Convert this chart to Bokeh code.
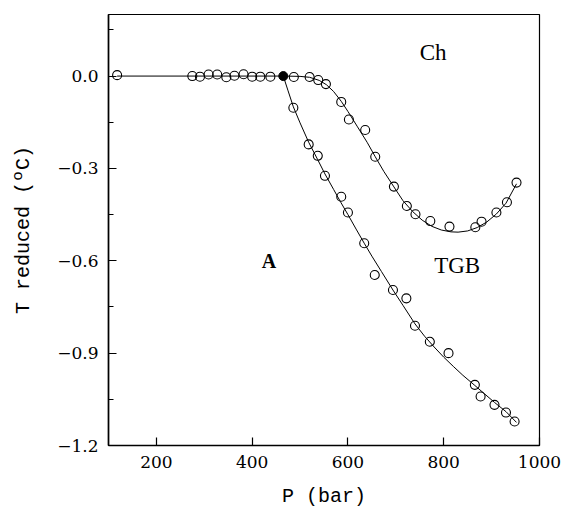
from bokeh.plotting import figure
from bokeh.models import FixedTicker, Range1d
from bokeh.core.properties import value
from bokeh.embed import file_html
from bokeh.resources import INLINE

# ---- data ----
# A-Ch boundary (open circles, flat part)
p_flat = [118, 275, 291, 309, 327, 346, 363, 382, 400, 417, 438]
t_flat = [0.003, 0.0, -0.002, 0.005, 0.005, -0.004, 0.001, 0.006, -0.002, -0.002, -0.002]

# triple point (filled)
p_triple = [465]
t_triple = [0.0]

# Ch-TGB boundary points
p_upper = [487, 520, 538, 554, 586, 602, 636, 657, 696, 723, 741, 772, 812, 866, 879, 910, 932, 952]
t_upper = [-0.003, -0.003, -0.013, -0.026, -0.084, -0.141, -0.175, -0.262, -0.359, -0.422,
           -0.449, -0.471, -0.489, -0.491, -0.473, -0.443, -0.410, -0.346]

# A-TGB boundary points
p_lower = [486, 518, 537, 552, 586, 600, 634, 656, 694, 722, 740, 771, 810, 865, 877, 906, 930, 948]
t_lower = [-0.103, -0.222, -0.259, -0.324, -0.392, -0.443, -0.543, -0.646, -0.695, -0.722,
           -0.811, -0.863, -0.900, -1.003, -1.041, -1.068, -1.093, -1.122]

# fitted lines
p_fit_flat = [118, 465]
t_fit_flat = [0.0, 0.0]

p_fit_upper = [465, 500, 520, 540, 555, 570, 586, 600, 620, 640, 657, 675, 696, 715, 735, 755,
               775, 795, 815, 830, 850, 870, 890, 910, 930, 952]
t_fit_upper = [0.0, -0.001, -0.004, -0.014, -0.028, -0.050, -0.082, -0.115, -0.165, -0.215,
               -0.262, -0.310, -0.360, -0.405, -0.440, -0.468, -0.488, -0.500, -0.506, -0.507,
               -0.503, -0.492, -0.474, -0.448, -0.413, -0.350]

p_fit_lower = [465, 475, 486, 500, 518, 537, 552, 570, 585, 600, 617, 634, 650, 670, 694, 715,
               740, 760, 780, 800, 820, 840, 865, 885, 906, 930, 952]
t_fit_lower = [0.0, -0.048, -0.100, -0.152, -0.215, -0.272, -0.318, -0.368, -0.410, -0.450,
               -0.497, -0.543, -0.585, -0.635, -0.695, -0.745, -0.805, -0.845, -0.880, -0.913,
               -0.943, -0.972, -1.005, -1.032, -1.060, -1.090, -1.125]

# region labels
region_names = ["Ch", "A", "TGB"]
region_p = [778, 435, 828]
region_t = [0.075, -0.600, -0.614]

# ticks
x_ticks = [200, 400, 600, 800, 1000]
y_ticks = [-1.2, -0.9, -0.6, -0.3, 0.0]
y_tick_labels = ["\u22121.2", "\u22120.9", "\u22120.6", "\u22120.3", "0.0"]
y_minor = [0.15, -0.15, -0.45, -0.75, -1.05]

p = figure(width=563, height=516, x_range=Range1d(100, 1000), y_range=Range1d(-1.2, 0.2),
           output_backend="svg", toolbar_location=None,
           min_border_left=108, min_border_top=14, min_border_right=24, min_border_bottom=71)
p.grid.visible = False
p.background_fill_color = "white"
p.border_fill_color = "white"
p.outline_line_color = "black"
p.outline_line_width = 1.2

# lines
p.line(p_fit_flat, t_fit_flat, line_color="black", line_width=1)
p.line(p_fit_upper, t_fit_upper, line_color="black", line_width=1)
p.line(p_fit_lower, t_fit_lower, line_color="black", line_width=1)

# points
for px, pt in [(p_flat, t_flat), (p_upper, t_upper), (p_lower, t_lower)]:
    p.scatter(px, pt, marker="circle", size=9, fill_color=None, line_color="black", line_width=1.1)
p.scatter(p_triple, t_triple, marker="circle", size=9, fill_color="black", line_color="black")

# region labels
p.text(x=region_p[0:1] + region_p[2:3], y=region_t[0:1] + region_t[2:3],
       text=region_names[0:1] + region_names[2:3],
       text_font=value("Liberation Serif"), text_font_size="23px",
       text_align="center", text_baseline="middle", text_color="black")
p.text(x=region_p[1:2], y=region_t[1:2], text=region_names[1:2],
       text_font=value("Liberation Serif"), text_font_size="20px", text_font_style="bold",
       text_align="center", text_baseline="middle", text_color="black")

# axes
xa = p.xaxis[0]
ya = p.yaxis[0]
xa.ticker = FixedTicker(ticks=x_ticks)
ya.ticker = FixedTicker(ticks=y_ticks, minor_ticks=y_minor)
ya.major_label_overrides = {float(v): s for v, s in zip(y_ticks, y_tick_labels)}

for ax in (xa, ya):
    ax.axis_line_width = 1.6
    ax.axis_line_color = "black"
    ax.major_tick_in = 8
    ax.major_tick_out = 0
    ax.major_tick_line_color = "black"
    ax.major_tick_line_width = 1.2
    ax.major_label_text_font = "DejaVu Serif"
    ax.major_label_text_font_size = "17px"
    ax.major_label_text_color = "black"
    ax.axis_label_text_font = "Liberation Mono"
    ax.axis_label_text_font_size = "20px"
    ax.axis_label_text_font_style = "normal"
    ax.axis_label_text_color = "black"

xa.minor_tick_line_color = None
ya.minor_tick_in = 5
ya.minor_tick_out = 0
ya.minor_tick_line_color = "black"
ya.minor_tick_line_width = 1.2

xa.major_label_standoff = 10
ya.major_label_standoff = 10
xa.axis_label = "P (bar)"
ya.axis_label = "T reduced (\u00baC)"
xa.axis_label_standoff = 14
ya.axis_label_standoff = 19

open("out.html", "w").write(file_html(p, INLINE))
